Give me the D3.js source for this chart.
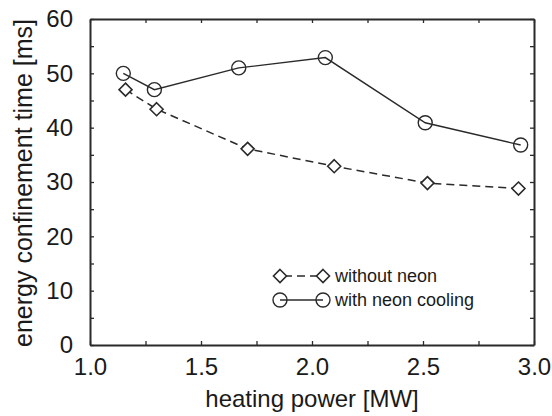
<!DOCTYPE html>
<html>
<head>
<meta charset="utf-8">
<script src="https://cdn.jsdelivr.net/npm/d3@7"></script>
<style>
  html, body { margin: 0; padding: 0; background: #fff; }
  svg { display: block; font-family: "Liberation Sans", Arial, Helvetica, sans-serif; }
</style>
</head>
<body>
<svg id="chart" width="552" height="416"></svg>
<script>
// Heating power [MW] and energy confinement time [ms]
const powerWithoutNeon = [1.16, 1.30, 1.71, 2.10, 2.52, 2.93];
const tauWithoutNeon   = [47.0, 43.4, 36.1, 32.9, 29.8, 28.8];
const powerWithNeon    = [1.15, 1.29, 1.67, 2.06, 2.51, 2.94];
const tauWithNeon      = [50.0, 47.0, 51.0, 52.9, 40.9, 36.8];

const xTicks = [1.0, 1.5, 2.0, 2.5, 3.0];
const yTicks = [0, 10, 20, 30, 40, 50, 60];
const xMinorTicks = [1.25, 1.75, 2.25, 2.75];
const yMinorTicks = [5, 15, 25, 35, 45, 55];

const legendLabels = ["without neon", "with neon cooling"];

const svg = d3.select("#chart");
const ink = "#2a2a2a";
const m = { left: 90, right: 534, top: 19, bottom: 345 };

const x = d3.scaleLinear().domain([1.0, 3.0]).range([m.left, m.right]);
const y = d3.scaleLinear().domain([0, 60]).range([m.bottom, m.top]);

// Axes: ticks point inward on all four sides
function styleAxis(g) {
  g.selectAll("path.domain").attr("stroke", ink).attr("stroke-width", 2);
  g.selectAll(".tick line").attr("stroke", ink).attr("stroke-width", 1.3);
  g.selectAll("text").attr("fill", "#1a1a1a").attr("font-size", 24)
    .attr("font-family", "'Liberation Sans', Arial, sans-serif");
}

const axisB = svg.append("g").attr("transform", `translate(0,${m.bottom})`)
  .call(d3.axisBottom(x).tickValues(xTicks.concat(xMinorTicks)).tickSize(-4).tickSizeOuter(0)
    .tickPadding(13).tickFormat(d => xTicks.includes(d) ? d3.format(".1f")(d) : ""));
styleAxis(axisB);
axisB.selectAll(".tick text").attr("dy", "0.71em");

const axisT = svg.append("g").attr("transform", `translate(0,${m.top})`)
  .call(d3.axisTop(x).tickValues(xTicks.concat(xMinorTicks)).tickSize(-4).tickSizeOuter(0).tickFormat(""));
styleAxis(axisT);

const axisL = svg.append("g").attr("transform", `translate(${m.left},0)`)
  .call(d3.axisLeft(y).tickValues(yTicks.concat(yMinorTicks)).tickSize(-4).tickSizeOuter(0)
    .tickPadding(17).tickFormat(d => yTicks.includes(d) ? d : ""));
styleAxis(axisL);

const axisR = svg.append("g").attr("transform", `translate(${m.right},0)`)
  .call(d3.axisRight(y).tickValues(yTicks.concat(yMinorTicks)).tickSize(-4).tickSizeOuter(0).tickFormat(""));
styleAxis(axisR);

// Axis titles
svg.append("text")
  .attr("x", (m.left + m.right) / 2).attr("y", 407)
  .attr("text-anchor", "middle").attr("font-size", 24).attr("fill", "#1a1a1a")
  .text("heating power [MW]");

svg.append("text")
  .attr("transform", `translate(32,183) rotate(-90)`)
  .attr("text-anchor", "middle").attr("font-size", 25).attr("fill", "#1a1a1a")
  .text("energy confinement time [ms]");

// Series
const line = d3.line().x(d => x(d[0])).y(d => y(d[1]));
const noNeon = d3.zip(powerWithoutNeon, tauWithoutNeon);
const withNeon = d3.zip(powerWithNeon, tauWithNeon);

function diamond(g, cx, cy) {
  const r = 6.5;
  g.append("path")
    .attr("d", `M${cx},${cy - r}L${cx + r},${cy}L${cx},${cy + r}L${cx - r},${cy}Z`)
    .attr("fill", "#fff").attr("stroke", ink).attr("stroke-width", 1.6);
}
function circle(g, cx, cy) {
  g.append("circle").attr("cx", cx).attr("cy", cy).attr("r", 7)
    .attr("fill", "none").attr("stroke", ink).attr("stroke-width", 1.4);
}

svg.append("path").datum(noNeon).attr("d", line)
  .attr("fill", "none").attr("stroke", ink).attr("stroke-width", 1.5)
  .attr("stroke-dasharray", "8,5");
svg.append("path").datum(withNeon).attr("d", line)
  .attr("fill", "none").attr("stroke", ink).attr("stroke-width", 1.4);

const marks = svg.append("g");
noNeon.forEach(d => diamond(marks, x(d[0]), y(d[1])));
withNeon.forEach(d => circle(marks, x(d[0]), y(d[1])));

// Legend
const lg = svg.append("g");
const lx1 = 280, lx2 = 323, ly1 = 276, ly2 = 300;
lg.append("line").attr("x1", lx1).attr("x2", lx2).attr("y1", ly1).attr("y2", ly1)
  .attr("stroke", ink).attr("stroke-width", 1.5).attr("stroke-dasharray", "8,5").attr("stroke-dashoffset", -4);
diamond(lg, lx1, ly1); diamond(lg, lx2, ly1);
lg.append("line").attr("x1", lx1).attr("x2", lx2).attr("y1", ly2).attr("y2", ly2)
  .attr("stroke", ink).attr("stroke-width", 1.4);
circle(lg, lx1, ly2); circle(lg, lx2, ly2);
lg.selectAll("text").data(legendLabels).enter().append("text")
  .attr("x", 335).attr("y", (d, i) => i ? ly2 : ly1).attr("dy", "0.35em")
  .attr("font-size", 18).attr("fill", "#1a1a1a").text(d => d);
</script>
</body>
</html>
